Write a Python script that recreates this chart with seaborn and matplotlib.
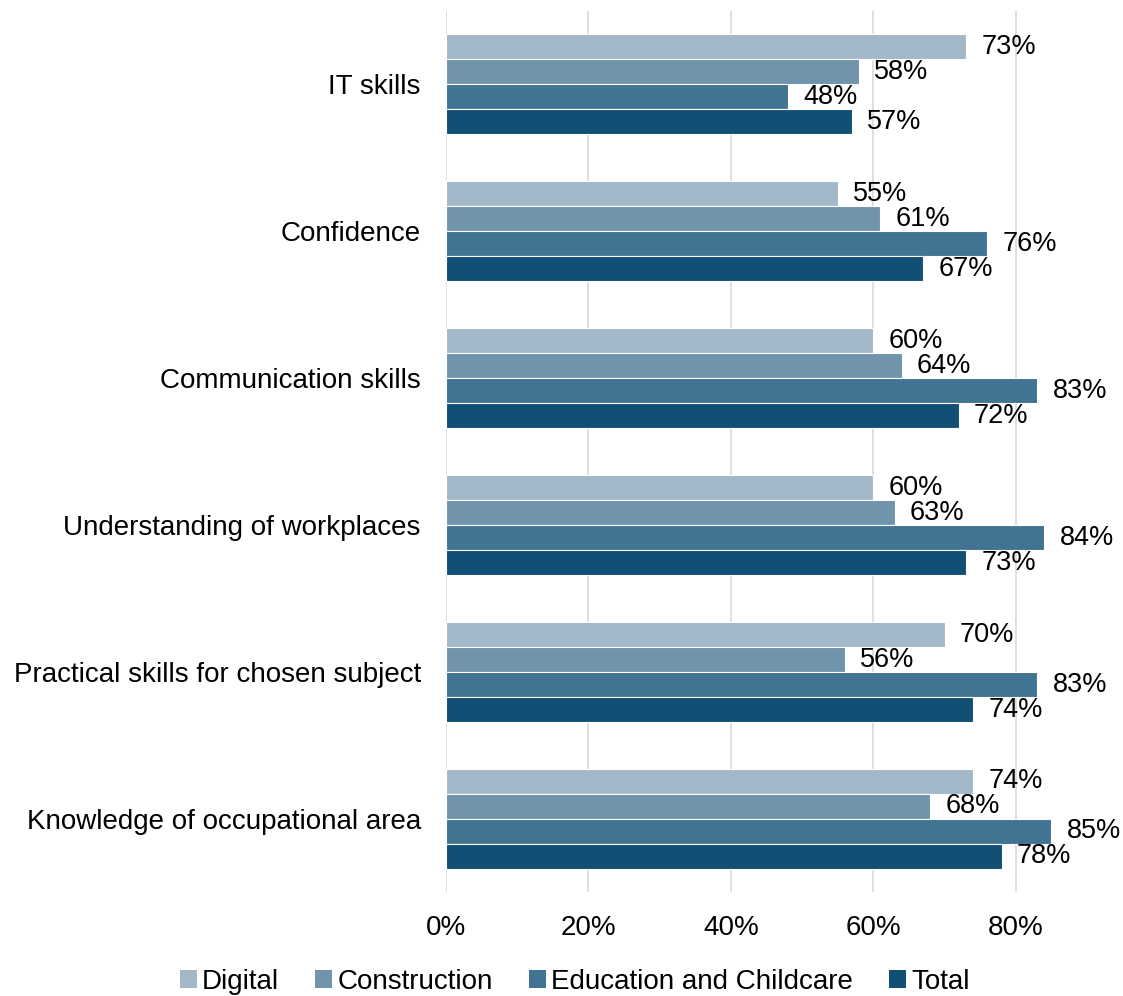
import matplotlib
matplotlib.use("Agg")
import matplotlib.pyplot as plt
import seaborn as sns
import pandas as pd
from matplotlib.patches import Patch

categories = [
    "IT skills",
    "Confidence",
    "Communication skills",
    "Understanding of workplaces",
    "Practical skills for chosen subject",
    "Knowledge of occupational area",
]
series = ["Digital", "Construction", "Education and Childcare", "Total"]
digital = [73, 55, 60, 60, 70, 74]
construction = [58, 61, 64, 63, 56, 68]
education = [48, 76, 83, 84, 83, 85]
total = [57, 67, 72, 73, 74, 78]
colors = ["#A2B8C8", "#6F94AC", "#417392", "#114F74"]

values = [digital, construction, education, total]
rows = []
for name, vals in zip(series, values):
    for cat, v in zip(categories, vals):
        rows.append({"Skill": cat, "Group": name, "Percent": v / 100})
df = pd.DataFrame(rows)

sns.set_theme(style="white")
plt.rcParams["font.family"] = ["Liberation Sans", "DejaVu Sans"]
plt.rcParams["text.color"] = "#000000"

fig = plt.figure(figsize=(11.23, 9.96), dpi=100)
ax = fig.add_axes([0.397, 0.104, 0.571, 0.885])

sns.barplot(
    data=df, y="Skill", x="Percent", hue="Group", order=categories,
    hue_order=series, palette=colors, saturation=1, orient="h", width=0.68,
    edgecolor="white", linewidth=0.8, legend=False, ax=ax,
)

for container in ax.containers:
    ax.bar_label(
        container,
        labels=[f"{w * 100:.0f}%" for w in container.datavalues],
        padding=11, fontsize=19.5, color="#000000",
    )

ax.set_xlim(0, 0.9)
ax.set_ylim(5.5, -0.5)
ax.set_xticks([0, 0.2, 0.4, 0.6, 0.8])
ax.set_xticklabels(["0%", "20%", "40%", "60%", "80%"])
ax.xaxis.grid(True, color="#D9D9D9", linewidth=1.2)
ax.set_axisbelow(True)
for s in ax.spines.values():
    s.set_visible(False)
ax.tick_params(axis="both", length=0, labelsize=20, colors="#000000")
ax.tick_params(axis="x", pad=16)
ax.tick_params(axis="y", pad=18)
ax.set_xlabel("")
ax.set_ylabel("")

handles = [Patch(facecolor=c, edgecolor="none") for c in colors]
fig.legend(
    handles, series, loc="lower center", bbox_to_anchor=(0.512, -0.024),
    ncol=4, frameon=False, fontsize=20, handlelength=0.6, handleheight=0.6,
    handletextpad=0.2, columnspacing=1.3, labelcolor="#000000",
)

fig.savefig("out.png", dpi=100)
